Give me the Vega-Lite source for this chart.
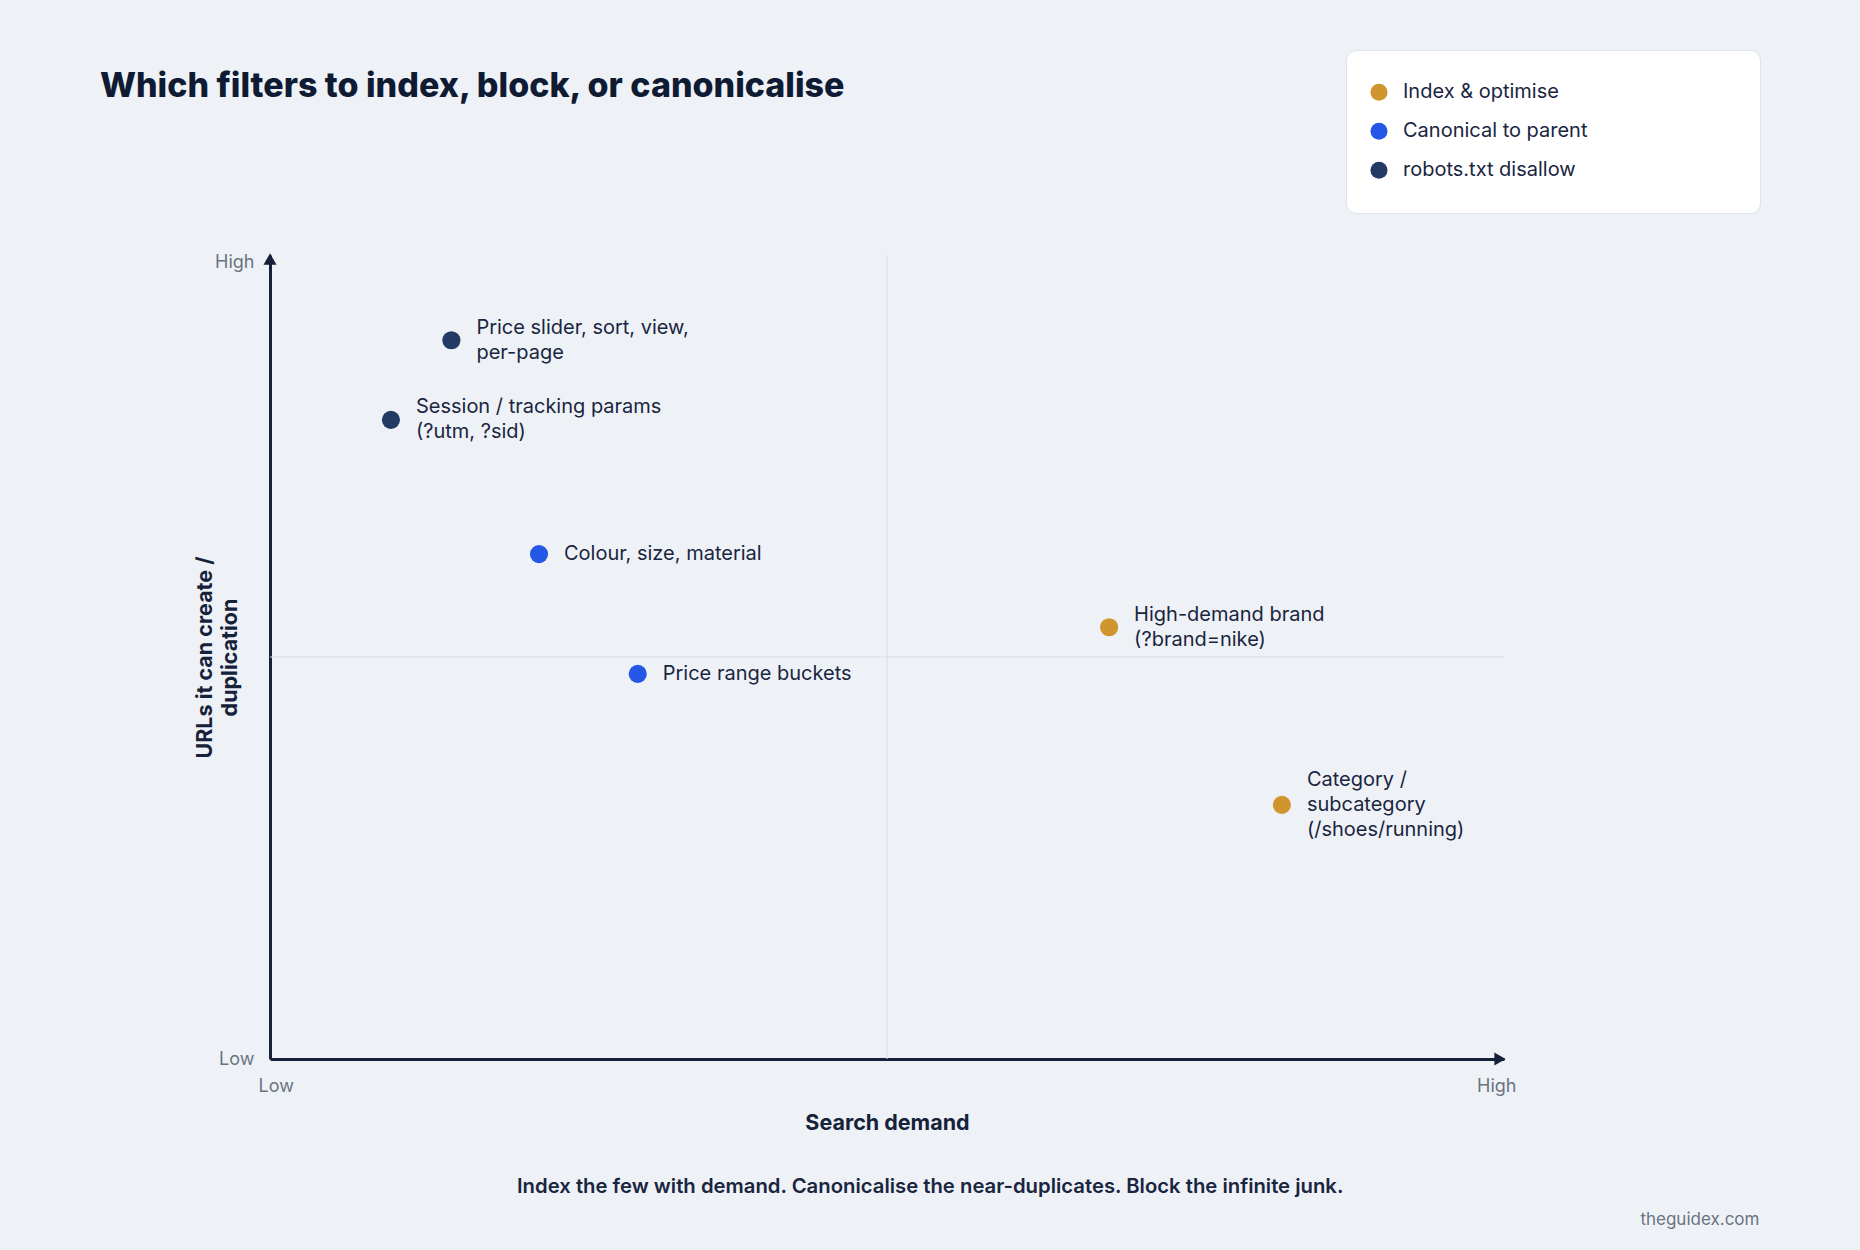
{
  "$schema": "https://vega.github.io/schema/vega-lite/v6.json",
  "width": 1234,
  "height": 804,
  "autosize": {"type": "none"},
  "padding": {"left": 270, "top": 255, "right": 356, "bottom": 191},
  "background": "#eef2f7",
  "title": {
    "text": "Which filters to index, block, or canonicalise",
    "anchor": "start",
    "frame": "group",
    "dx": -170,
    "offset": -81,
    "baseline": "alphabetic",
    "font": "Inter",
    "fontSize": 34,
    "fontWeight": 800,
    "color": "#0f1b33"
  },
  "config": {
    "view": {"stroke": null},
    "font": "Inter"
  },
  "data": {
    "values": [
      {"filter": "Price slider, sort, view,\nper-page", "demand": 14.7, "duplication": 89.4, "action": "robots.txt disallow"},
      {"filter": "Session / tracking params\n(?utm, ?sid)", "demand": 9.8, "duplication": 79.5, "action": "robots.txt disallow"},
      {"filter": "Colour, size, material", "demand": 21.8, "duplication": 62.8, "action": "Canonical to parent"},
      {"filter": "Price range buckets", "demand": 29.8, "duplication": 47.9, "action": "Canonical to parent"},
      {"filter": "High-demand brand\n(?brand=nike)", "demand": 68, "duplication": 53.7, "action": "Index & optimise"},
      {"filter": "Category /\nsubcategory\n(/shoes/running)", "demand": 82, "duplication": 31.6, "action": "Index & optimise"}
    ]
  },
  "layer": [
    {
      "data": {"values": [{}]},
      "mark": {"type": "rule", "color": "#d8dee7", "strokeWidth": 1},
      "encoding": {"x": {"datum": 50, "type": "quantitative"}}
    },
    {
      "data": {"values": [{}]},
      "mark": {"type": "rule", "color": "#d8dee7", "strokeWidth": 1},
      "encoding": {"y": {"datum": 50, "type": "quantitative"}}
    },
    {
      "mark": {"type": "circle", "size": 330, "opacity": 1},
      "encoding": {
        "x": {
          "field": "demand",
          "type": "quantitative",
          "scale": {"domain": [0, 100], "nice": false, "zero": false},
          "axis": {
            "values": [0, 100],
            "labelExpr": "datum.value == 0 ? 'Low' : 'High'",
            "grid": false,
            "ticks": false,
            "tickSize": 0,
            "domainWidth": 3,
            "domainColor": "#16213a",
            "labelColor": "#6b7280",
            "labelFontSize": 18,
            "labelPadding": 18,
            "labelFlush": true,
            "labelFlushOffset": 12,
            "title": "Search demand",
            "titleFontSize": 21.5,
            "titleFontWeight": 700,
            "titleColor": "#16213a",
            "titlePadding": 17
          }
        },
        "y": {
          "field": "duplication",
          "type": "quantitative",
          "scale": {"domain": [0, 100], "nice": false, "zero": false},
          "axis": {
            "values": [0, 100],
            "labelExpr": "datum.value == 0 ? 'Low' : 'High'",
            "grid": false,
            "ticks": false,
            "tickSize": 0,
            "domainWidth": 3,
            "domainColor": "#16213a",
            "labelColor": "#6b7280",
            "labelFontSize": 18,
            "labelPadding": 16,
            "labelOffset": {"condition": {"test": "datum.value == 100", "value": 7}, "value": 0},
            "title": ["URLs it can create /", "duplication"],
            "titleFontSize": 21.5,
            "titleFontWeight": 700,
            "titleColor": "#16213a",
            "titleLineHeight": 25,
            "titlePadding": -27
          }
        },
        "color": {
          "field": "action",
          "type": "nominal",
          "scale": {
            "domain": ["Index & optimise", "Canonical to parent", "robots.txt disallow"],
            "range": ["#d0952f", "#2457e6", "#223a64"]
          },
          "legend": {
            "title": null,
            "orient": "none",
            "legendX": 1076,
            "legendY": -205,
            "padding": 23,
            "fillColor": "#ffffff",
            "strokeColor": "#dde2ea",
            "cornerRadius": 10,
            "symbolType": "circle",
            "symbolSize": 290,
            "symbolStrokeWidth": 0,
            "symbolOpacity": 1,
            "labelFont": "Inter",
            "labelFontSize": 20,
            "labelColor": "#1a2540",
            "labelOffset": 14,
            "labelLimit": 340,
            "clipHeight": 38.5,
            "rowPadding": 0,
            "encode": {"entries": {"update": {"width": {"value": 368}}}}
          }
        }
      }
    },
    {
      "transform": [{"filter": "length(split(datum.filter, '\\n')) == 1"}],
      "mark": {"type": "text", "align": "left", "baseline": "middle", "dx": 25, "fontSize": 20, "lineBreak": "\n", "lineHeight": 25, "color": "#1a2540"},
      "encoding": {
        "x": {"field": "demand", "type": "quantitative"},
        "y": {"field": "duplication", "type": "quantitative"},
        "text": {"field": "filter"}
      }
    },
    {
      "transform": [{"filter": "length(split(datum.filter, '\\n')) == 2"}],
      "mark": {"type": "text", "align": "left", "baseline": "middle", "dx": 25, "dy": -12.5, "fontSize": 20, "lineBreak": "\n", "lineHeight": 25, "color": "#1a2540"},
      "encoding": {
        "x": {"field": "demand", "type": "quantitative"},
        "y": {"field": "duplication", "type": "quantitative"},
        "text": {"field": "filter"}
      }
    },
    {
      "transform": [{"filter": "length(split(datum.filter, '\\n')) == 3"}],
      "mark": {"type": "text", "align": "left", "baseline": "middle", "dx": 25, "dy": -25, "fontSize": 20, "lineBreak": "\n", "lineHeight": 25, "color": "#1a2540"},
      "encoding": {
        "x": {"field": "demand", "type": "quantitative"},
        "y": {"field": "duplication", "type": "quantitative"},
        "text": {"field": "filter"}
      }
    },
    {
      "data": {"values": [{}]},
      "mark": {"type": "point", "shape": "triangle-up", "filled": true, "size": 170, "color": "#16213a", "opacity": 1, "yOffset": 4},
      "encoding": {
        "x": {"datum": 0, "type": "quantitative"},
        "y": {"datum": 100, "type": "quantitative"}
      }
    },
    {
      "data": {"values": [{}]},
      "mark": {"type": "point", "shape": "triangle-right", "filled": true, "size": 170, "color": "#16213a", "opacity": 1, "xOffset": -4},
      "encoding": {
        "x": {"datum": 100, "type": "quantitative"},
        "y": {"datum": 0, "type": "quantitative"}
      }
    },
    {
      "data": {"values": [{}]},
      "mark": {
        "type": "text",
        "text": "Index the few with demand. Canonicalise the near-duplicates. Block the infinite junk.",
        "align": "center",
        "baseline": "middle",
        "fontSize": 20.3,
        "fontWeight": 600,
        "color": "#1a2540"
      },
      "encoding": {
        "x": {"datum": 53.5, "type": "quantitative"},
        "y": {"datum": -15.9, "type": "quantitative"}
      }
    },
    {
      "data": {"values": [{}]},
      "mark": {
        "type": "text",
        "text": "theguidex.com",
        "align": "right",
        "baseline": "middle",
        "fontSize": 17,
        "color": "#6b7280"
      },
      "encoding": {
        "x": {"datum": 120.7, "type": "quantitative"},
        "y": {"datum": -20, "type": "quantitative"}
      }
    }
  ]
}
